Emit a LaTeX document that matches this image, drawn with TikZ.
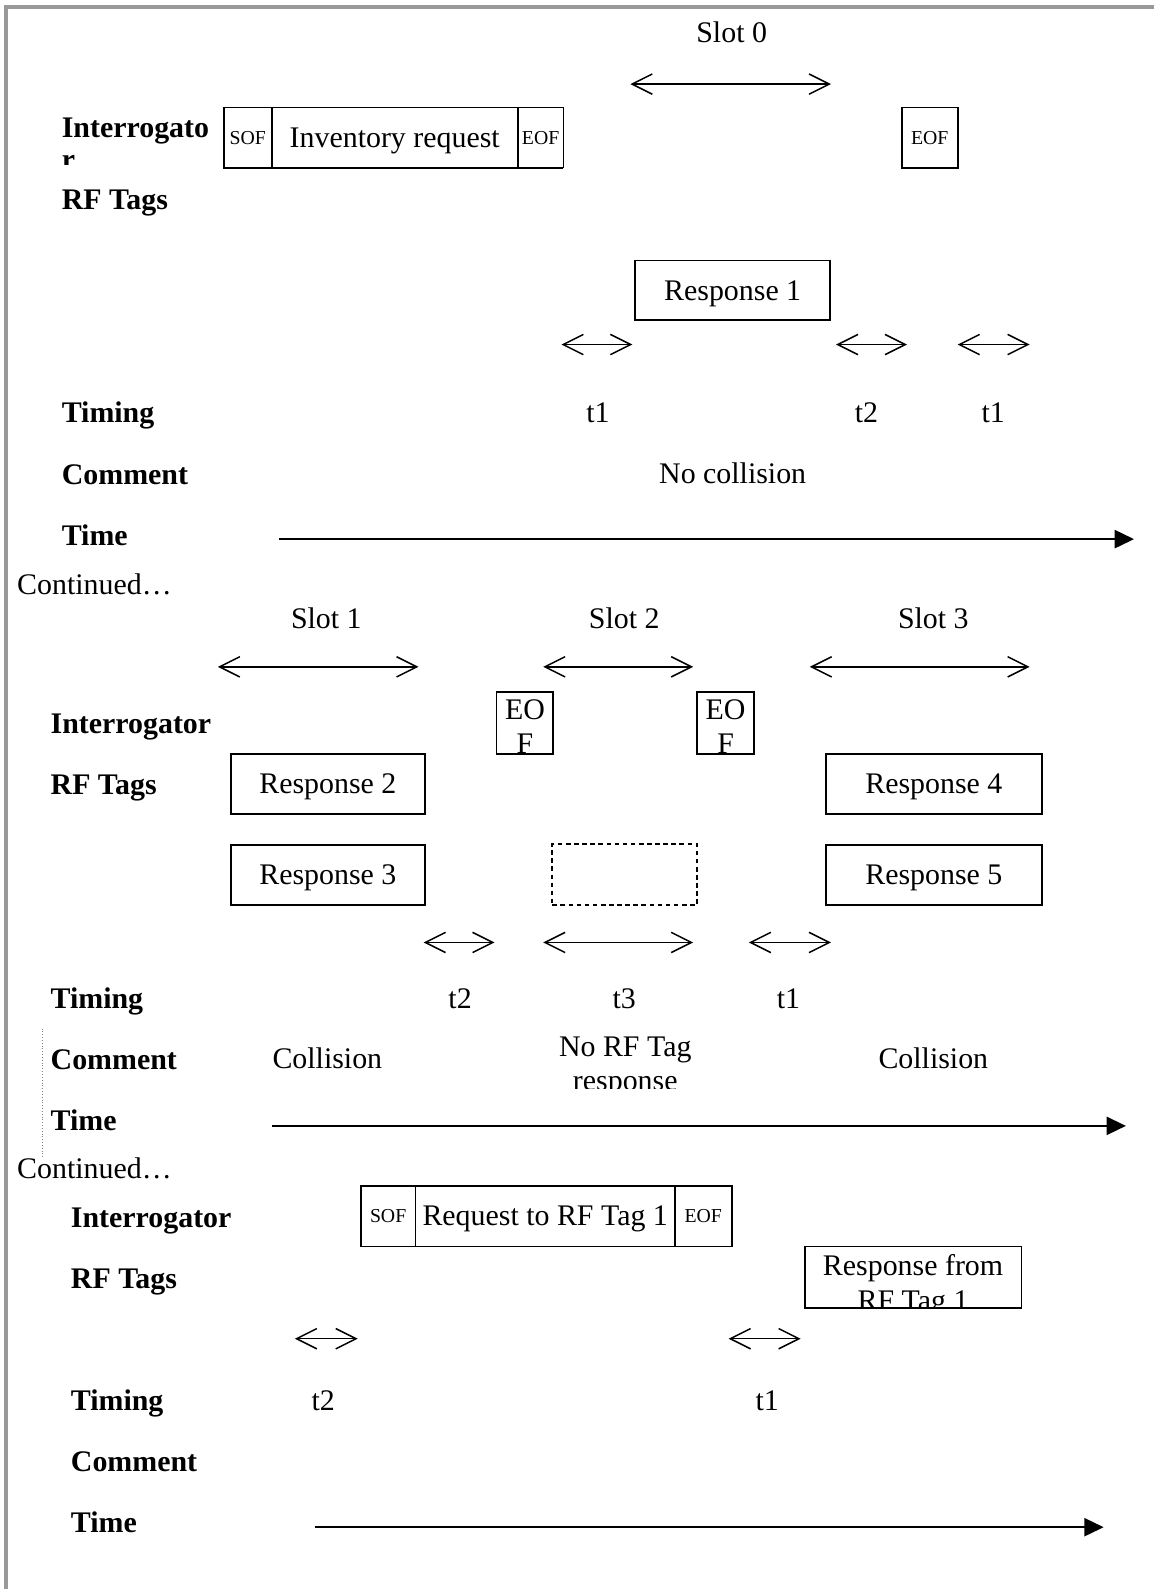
\documentclass[tikz,border=0pt]{standalone}
\usepackage{fontspec}
\setmainfont{Liberation Serif}
\usetikzlibrary{arrows.meta}
\begin{document}
\begin{tikzpicture}[x=1pt,y=-1pt,
  every node/.style={inner sep=0pt, outer sep=0pt},
  txt/.style={font=\fontsize{29.5pt}{34pt}\selectfont, text height=19.5pt, text depth=0pt},
  ft/.style={txt, yshift=-1.5pt},
  sml/.style={font=\fontsize{19.5pt}{22pt}\selectfont, text height=13pt, text depth=0pt},
  lab/.style={font=\fontsize{29.5pt}{34pt}\selectfont\bfseries, text height=19.5pt, text depth=0pt, anchor=west, yshift=-1.5pt},
  box/.style={draw, line width=1.8pt},
  darr/.style={line width=1.5pt, {Straight Barb[length=20pt,width=20pt,line width=1.5pt]}-{Straight Barb[length=20pt,width=20pt,line width=1.5pt]}},
  tarr/.style={line width=1.5pt, -{Triangle[length=19pt,width=18pt]}},
  frame/.style={line width=1.8pt},
]
\useasboundingbox (0,0) rectangle (1139,1568);
% page border
\coordinate (bl) at (6,1568); \coordinate (tl) at (6,7); \coordinate (tr) at (1139,7);
\draw[gray!80, line width=4pt] (bl) -- (tl) -- (tr);

% ---------------- Section 1 ----------------
\node[ft] (s0) at (722,31) {Slot 0};
\coordinate (s0a) at (622,83); \coordinate (s0b) at (820,83);
\draw[darr] (s0a) -- (s0b);

\node[lab] (int1) at (61,124) {Interrogato};
\begin{scope}
  \clip (40,140) rectangle (120,162);
  \node[lab] (int1r) at (61,156) {r};
\end{scope}
\node[lab] (rf1) at (61,195) {RF Tags};

\node[sml, minimum width=47pt, minimum height=60pt] (sof1) at (244.5,136) {SOF};
\node[txt, minimum width=243pt, minimum height=60pt] (inv) at (389.5,136) {Inventory request};
\node[sml, minimum width=45pt, minimum height=60pt] (eof1) at (533.5,136) {EOF};
\draw[frame] (eof1.north east) -- (sof1.north west) -- (sof1.south west) -- (eof1.south east);
\draw[frame] (sof1.north east) -- (sof1.south east);
\draw[frame] (inv.north east) -- (inv.south east);
\draw[line width=0.6pt] (eof1.north east) -- (eof1.south east);

\node[box, sml, minimum width=55pt, minimum height=60pt] (eof2) at (917.5,136) {EOF};

\node[box, txt, minimum width=192pt, minimum height=59pt] (r1) at (723,286.5) {Response 1};

\coordinate (a1a) at (554,340); \coordinate (a1b) at (624,340);
\coordinate (a2a) at (825,340); \coordinate (a2b) at (895,340);
\coordinate (a3a) at (945,340); \coordinate (a3b) at (1016,340);
\draw[darr] (a1a) -- (a1b);
\draw[darr] (a2a) -- (a2b);
\draw[darr] (a3a) -- (a3b);

\node[lab] (tim1) at (61,406) {Timing};
\node[ft] (t1a) at (590,406) {t1};
\node[ft] (t2a) at (855,406) {t2};
\node[ft] (t1b) at (980,406) {t1};

\node[lab] (com1) at (61,467) {Comment};
\node[ft] (nc) at (723,466) {No collision};

\node[lab] (time1) at (61,527) {Time};
\coordinate (ta1) at (275,532); \coordinate (tb1) at (1119,532);
\draw[tarr] (ta1) -- (tb1);

\node[ft, anchor=west] (cont1) at (17,575) {Continued…};

% ---------------- Section 2 ----------------
\node[ft] (s1) at (322,609) {Slot 1};
\node[ft] (s2) at (616,609) {Slot 2};
\node[ft] (s3) at (921,609) {Slot 3};
\coordinate (s1a) at (215,658); \coordinate (s1b) at (413,658);
\coordinate (s2a) at (536,658); \coordinate (s2b) at (684,658);
\coordinate (s3a) at (799,658); \coordinate (s3b) at (1016,658);
\draw[darr] (s1a) -- (s1b);
\draw[darr] (s2a) -- (s2b);
\draw[darr] (s3a) -- (s3b);

\node[lab] (int2) at (50,713) {Interrogator};
\node[box, minimum width=56pt, minimum height=61pt] (eofa) at (518,713.5) {};
\node[box, minimum width=56pt, minimum height=61pt] (eofb) at (716,713.5) {};
\begin{scope}
  \clip (eofa.north west) rectangle (eofa.south east);
  \node[txt] (eofaT) at (518,700) {EO};
  \node[txt] (eofaB) at (518,734) {F};
\end{scope}
\begin{scope}
  \clip (eofb.north west) rectangle (eofb.south east);
  \node[txt] (eofbT) at (716,700) {EO};
  \node[txt] (eofbB) at (716,734) {F};
\end{scope}

\node[lab] (rf2) at (50,773) {RF Tags};
\node[box, txt, minimum width=191pt, minimum height=59pt] (r2) at (323.5,773.5) {Response 2};
\node[box, txt, minimum width=213pt, minimum height=59pt] (r4) at (921.5,773.5) {Response 4};
\node[box, txt, minimum width=191pt, minimum height=59pt] (r3) at (323.5,863.5) {Response 3};
\node[draw, line width=1.6pt, dash pattern=on 4.5pt off 3.5pt, minimum width=143pt, minimum height=60pt] (empty) at (616.5,863) {};
\node[box, txt, minimum width=213pt, minimum height=59pt] (r5) at (921.5,863.5) {Response 5};

\coordinate (b1a) at (418,930); \coordinate (b1b) at (488,930);
\coordinate (b2a) at (536,930); \coordinate (b2b) at (684,930);
\coordinate (b3a) at (739,930); \coordinate (b3b) at (820,930);
\draw[darr] (b1a) -- (b1b);
\draw[darr] (b2a) -- (b2b);
\draw[darr] (b3a) -- (b3b);

\node[lab] (tim2) at (50,984) {Timing};
\node[ft] (t2b) at (454,984) {t2};
\node[ft] (t3) at (616,984) {t3};
\node[ft] (t1c) at (778,984) {t1};

\coordinate (dota) at (42,1015); \coordinate (dotb) at (42,1142);
\draw[gray, dotted, line width=0.8pt] (dota) -- (dotb);

\node[lab] (com2) at (50,1044) {Comment};
\node[ft] (col1) at (323,1043) {Collision};
\node[ft] (norf) at (617,1031) {No RF Tag};
\begin{scope}
  \clip (540,1040) rectangle (700,1074);
  \node[ft] (resp) at (617,1065) {response};
\end{scope}
\node[ft] (col2) at (921,1043) {Collision};

\node[lab] (time2) at (50,1104) {Time};
\coordinate (ta2) at (268,1111); \coordinate (tb2) at (1111,1111);
\draw[tarr] (ta2) -- (tb2);

\node[ft, anchor=west] (cont2) at (17,1152) {Continued…};

% ---------------- Section 3 ----------------
\node[lab] (int3) at (70,1200) {Interrogator};
\node[sml, minimum width=54pt, minimum height=60pt] (sof2) at (383,1200) {SOF};
\node[txt, minimum width=256pt, minimum height=60pt] (req) at (538,1200) {Request to RF Tag 1};
\node[sml, minimum width=56pt, minimum height=60pt] (eof3) at (694,1200) {EOF};
\draw[frame] (sof2.north west) rectangle (eof3.south east);
\draw[frame] (sof2.north east) -- (sof2.south east);
\draw[frame] (req.north east) -- (req.south east);

\node[lab] (rf3) at (70,1260) {RF Tags};
\node[minimum width=214pt, minimum height=61pt] (rft) at (901,1260.5) {};
\draw[line width=1pt] (rft.north west) -- (rft.north east);
\draw[frame] (rft.north west) -- (rft.south west) -- (rft.south east) -- (rft.north east);
\begin{scope}
  \clip (rft.north west) rectangle ([yshift=1pt]rft.south east);
  \node[txt] (rftT) at (901,1249) {Response from};
  \node[txt] (rftB) at (901,1283) {RF Tag 1};
\end{scope}

\coordinate (c1a) at (291,1321); \coordinate (c1b) at (353,1321);
\coordinate (c2a) at (719,1321); \coordinate (c2b) at (790,1321);
\draw[darr] (c1a) -- (c1b);
\draw[darr] (c2a) -- (c2b);

\node[lab] (tim3) at (70,1381) {Timing};
\node[ft] (t2c) at (319,1381) {t2};
\node[ft] (t1d) at (757,1381) {t1};

\node[lab] (com3) at (70,1441) {Comment};

\node[lab] (time3) at (70,1501) {Time};
\coordinate (ta3) at (311,1507); \coordinate (tb3) at (1089,1507);
\draw[tarr] (ta3) -- (tb3);
\end{tikzpicture}
\end{document}
